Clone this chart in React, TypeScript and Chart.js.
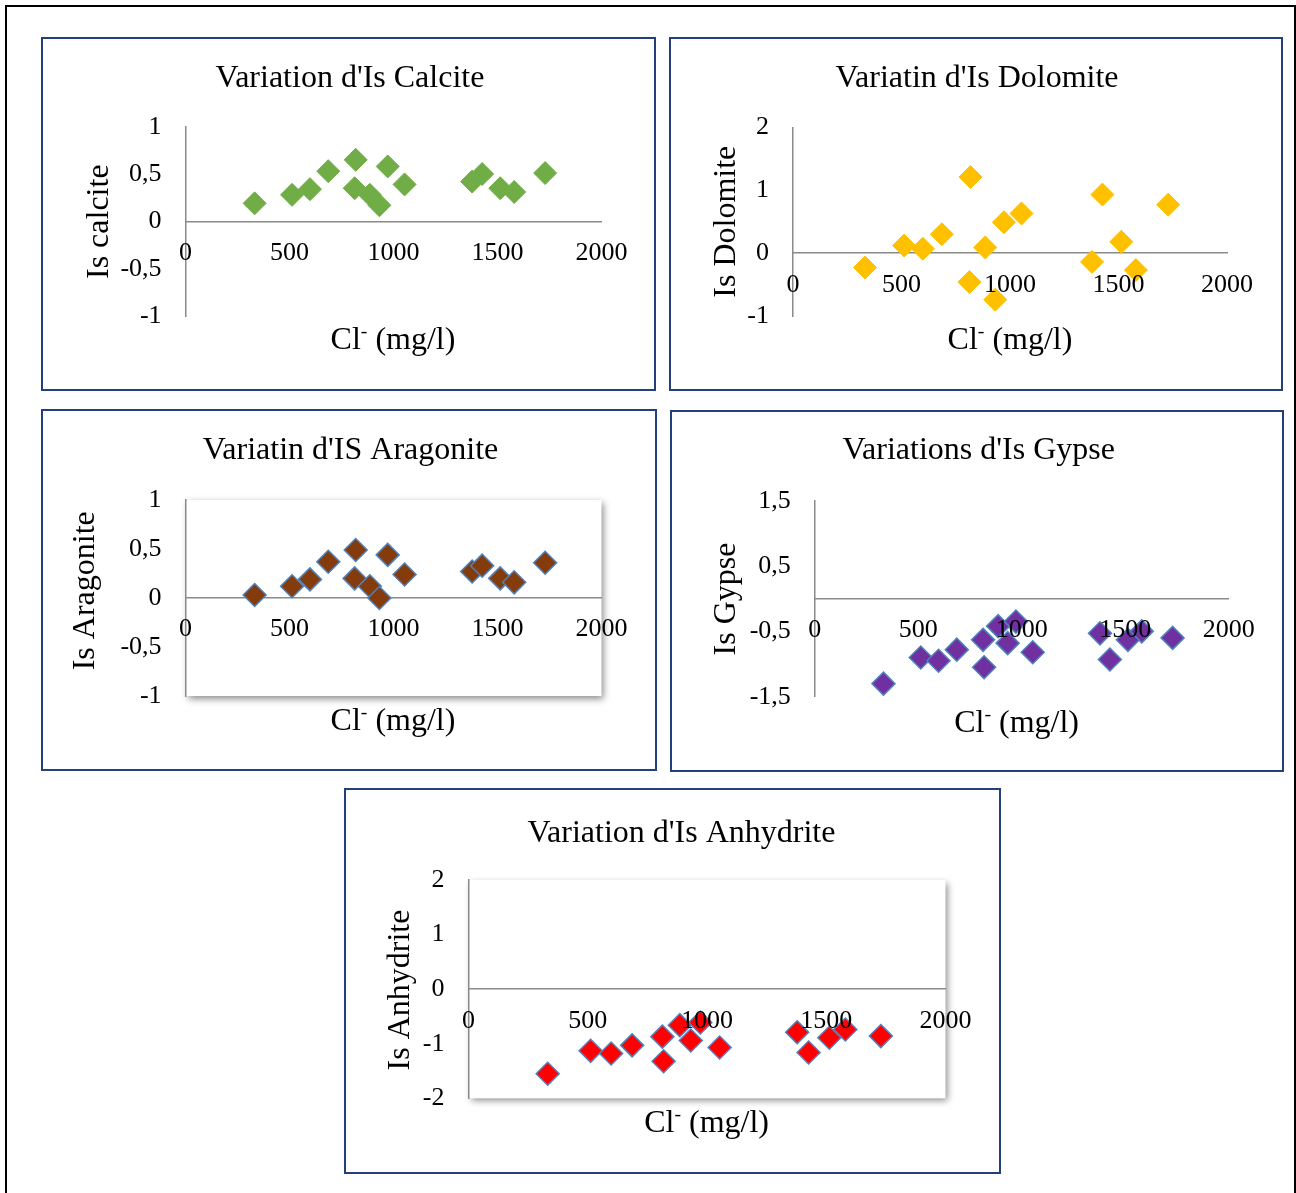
import React, { useEffect, useRef } from 'react';
import { Chart, registerables } from 'chart.js';

Chart.register(...registerables);

// ---------------- data ----------------
const chlorideMgL = [332, 512, 598, 686, 813, 818, 886, 932, 972, 1053, 1378, 1426, 1513, 1580, 1729];
const isCalcite = [0.19, 0.28, 0.34, 0.53, 0.35, 0.65, 0.28, 0.17, 0.58, 0.39, 0.42, 0.5, 0.35, 0.31, 0.51];
const isDolomite = [-0.23, 0.12, 0.07, 0.3, -0.46, 1.21, 0.09, -0.74, 0.49, 0.63, -0.14, 0.93, 0.18, -0.27, 0.77];
const isAragonite = [0.03, 0.12, 0.19, 0.37, 0.2, 0.49, 0.12, 0.0, 0.44, 0.24, 0.27, 0.33, 0.2, 0.16, 0.36];
const isGypse = [-1.3, -0.9, -0.95, -0.78, -0.63, -1.05, -0.42, -0.68, -0.35, -0.82, -0.53, -0.93, -0.63, -0.5, -0.6];
const isAnhydrite = [-1.55, -1.13, -1.18, -1.03, -0.87, -1.32, -0.66, -0.94, -0.61, -1.07, -0.79, -1.16, -0.89, -0.74, -0.86];

const xTicks = [0, 500, 1000, 1500, 2000];
const calciteTicks = [-1, -0.5, 0, 0.5, 1];
const dolomiteTicks = [-1, 0, 1, 2];
const aragoniteTicks = [-1, -0.5, 0, 0.5, 1];
const gypseTicks = [-1.5, -0.5, 0.5, 1.5];
const anhydriteTicks = [-2, -1, 0, 1, 2];

const xAxisTitle = 'Cl';
const xAxisTitleSup = '-';
const xAxisTitleUnit = ' (mg/l)';

// ---------------- styles / layout ----------------
const FONT = "'Liberation Serif', 'Times New Roman', serif";
const AXIS_COLOR = '#8a8a8a';
const PANEL_BORDER = '#24407a';

type Panel = {
  title: string;
  yTitle: string;
  values: number[];
  yTicks: number[];
  fill: string;
  stroke: string;
  strokeWidth: number;
  box: { l: number; t: number; w: number; h: number };
  area: { left: number; right: number; top: number; bottom: number };
  titlePos: [number, number];
  yTitlePos: [number, number];
  xTitlePos: [number, number];
  shadow: boolean;
};

const panels: Panel[] = [
  {
    title: "Variation d'Is Calcite",
    yTitle: 'Is calcite',
    values: isCalcite,
    yTicks: calciteTicks,
    fill: '#70AD47',
    stroke: '#70AD47',
    strokeWidth: 1,
    box: { l: 41, t: 37, w: 615, h: 354 },
    area: { left: 144.6, right: 54.5, top: 89.7, bottom: 75 },
    titlePos: [309, 49.7],
    yTitlePos: [66.5, 184.7],
    xTitlePos: [352, 312],
    shadow: false,
  },
  {
    title: "Variatin d'Is Dolomite",
    yTitle: 'Is Dolomite',
    values: isDolomite,
    yTicks: dolomiteTicks,
    fill: '#FFC000',
    stroke: '#FFC000',
    strokeWidth: 1,
    box: { l: 669, t: 37, w: 614, h: 354 },
    area: { left: 124, right: 56, top: 90.3, bottom: 75 },
    titlePos: [308, 49.7],
    yTitlePos: [66, 184.7],
    xTitlePos: [341, 312],
    shadow: false,
  },
  {
    title: "Variatin d'IS Aragonite",
    yTitle: 'Is Aragonite',
    values: isAragonite,
    yTicks: aragoniteTicks,
    fill: '#843C0C',
    stroke: '#4F81BD',
    strokeWidth: 1.5,
    box: { l: 41, t: 409, w: 616, h: 362 },
    area: { left: 144.6, right: 55.5, top: 91, bottom: 75 },
    titlePos: [309.5, 50],
    yTitlePos: [52.6, 181.8],
    xTitlePos: [352, 321],
    shadow: true,
  },
  {
    title: "Variations d'Is Gypse",
    yTitle: 'Is Gypse',
    values: isGypse,
    yTicks: gypseTicks,
    fill: '#7030A0',
    stroke: '#4F81BD',
    strokeWidth: 1.5,
    box: { l: 670, t: 410, w: 614, h: 362 },
    area: { left: 144.8, right: 55.3, top: 90.7, bottom: 75.3 },
    titlePos: [308.7, 49],
    yTitlePos: [65, 189],
    xTitlePos: [346.6, 321.7],
    shadow: false,
  },
  {
    title: "Variation d'Is Anhydrite",
    yTitle: 'Is Anhydrite',
    values: isAnhydrite,
    yTicks: anhydriteTicks,
    fill: '#FF0000',
    stroke: '#4F81BD',
    strokeWidth: 1.5,
    box: { l: 344, t: 788, w: 657, h: 386 },
    area: { left: 124.5, right: 55.5, top: 92, bottom: 75.7 },
    titlePos: [337.5, 53.7],
    yTitlePos: [65, 202],
    xTitlePos: [362.6, 343.7],
    shadow: true,
  },
];

const TITLE_SIZE = 32;
const AXIS_TITLE_SIZE = 32;
const TICK_SIZE = 26;

const panelTextPlugin = {
  id: 'panelText',
  afterDraw(chart: any, _args: any, opts: any) {
    const ctx = chart.ctx as CanvasRenderingContext2D;
    ctx.save();
    ctx.fillStyle = '#000';
    ctx.textBaseline = 'alphabetic';

    // chart title
    ctx.font = `${TITLE_SIZE}px ${FONT}`;
    ctx.textAlign = 'center';
    ctx.fillText(opts.title, opts.titleX, opts.titleY);

    // y-axis title (rotated)
    ctx.save();
    ctx.translate(opts.yTitleX, opts.yTitleY);
    ctx.rotate(-Math.PI / 2);
    ctx.font = `${AXIS_TITLE_SIZE}px ${FONT}`;
    ctx.textAlign = 'center';
    ctx.fillText(opts.yTitle, 0, 0);
    ctx.restore();

    // x-axis title with superscript
    const mainFont = `${AXIS_TITLE_SIZE}px ${FONT}`;
    const supFont = `${AXIS_TITLE_SIZE * 0.62}px ${FONT}`;
    ctx.font = mainFont;
    const w1 = ctx.measureText(xAxisTitle).width;
    const w3 = ctx.measureText(xAxisTitleUnit).width;
    ctx.font = supFont;
    const w2 = ctx.measureText(xAxisTitleSup).width;
    let x = opts.xTitleX - (w1 + w2 + w3) / 2;
    const by = opts.xTitleY;
    ctx.textAlign = 'left';
    ctx.font = mainFont;
    ctx.fillText(xAxisTitle, x, by);
    x += w1;
    ctx.font = supFont;
    ctx.fillText(xAxisTitleSup, x, by - AXIS_TITLE_SIZE * 0.38);
    x += w2;
    ctx.font = mainFont;
    ctx.fillText(xAxisTitleUnit, x, by);
    ctx.restore();
  },
};

const plotShadowPlugin = {
  id: 'plotShadow',
  beforeDraw(chart: any, _args: any, opts: any) {
    if (!opts || !opts.enabled) return;
    const { ctx, chartArea } = chart;
    ctx.save();
    ctx.shadowColor = 'rgba(0,0,0,0.45)';
    ctx.shadowBlur = 7;
    ctx.shadowOffsetX = 2;
    ctx.shadowOffsetY = 3;
    ctx.fillStyle = '#ffffff';
    ctx.fillRect(chartArea.left, chartArea.top, chartArea.right - chartArea.left, chartArea.bottom - chartArea.top);
    ctx.restore();
  },
};

function ScatterPanel({ p }: { p: Panel }) {
  const ref = useRef<HTMLCanvasElement | null>(null);

  useEffect(() => {
    if (!ref.current) return;
    const fmt = (v: number) => String(v).replace('.', ',');
    const chart = new Chart(ref.current, {
      type: 'scatter',
      data: {
        datasets: [
          {
            data: chlorideMgL.map((x, i) => ({ x, y: p.values[i] })),
            pointStyle: 'rectRot',
            pointRadius: 11.5,
            pointHoverRadius: 11.5,
            backgroundColor: p.fill,
            borderColor: p.stroke,
            borderWidth: p.strokeWidth,
          },
        ],
      },
      options: {
        responsive: false,
        animation: false,
        events: [],
        layout: {
          padding: { left: 0, top: p.area.top, right: p.area.right, bottom: p.area.bottom },
        },
        plugins: {
          legend: { display: false },
          title: { display: false },
          tooltip: { enabled: false },
          panelText: {
            title: p.title,
            titleX: p.titlePos[0],
            titleY: p.titlePos[1],
            yTitle: p.yTitle,
            yTitleX: p.yTitlePos[0],
            yTitleY: p.yTitlePos[1],
            xTitleX: p.xTitlePos[0],
            xTitleY: p.xTitlePos[1],
          },
          plotShadow: { enabled: p.shadow },
        } as any,
        scales: {
          x: {
            type: 'linear',
            position: { y: 0 } as any,
            min: xTicks[0],
            max: xTicks[xTicks.length - 1],
            afterBuildTicks: (s: any) => {
              s.ticks = xTicks.map((v) => ({ value: v }));
            },
            ticks: {
              callback: (v: any) => String(v),
              font: { family: FONT, size: TICK_SIZE },
              color: '#000',
              padding: 16,
              maxRotation: 0,
              autoSkip: false,
              z: 1,
            } as any,
            grid: { display: false, drawTicks: false },
            border: { display: true, color: AXIS_COLOR, width: 1.5, z: 0 },
          },
          y: {
            type: 'linear',
            position: 'left',
            min: p.yTicks[0],
            max: p.yTicks[p.yTicks.length - 1],
            afterBuildTicks: (s: any) => {
              s.ticks = p.yTicks.map((v) => ({ value: v }));
            },
            afterFit: (s: any) => {
              s.width = p.area.left;
            },
            ticks: {
              callback: (v: any) => fmt(Number(v)),
              font: { family: FONT, size: TICK_SIZE },
              color: '#000',
              padding: 24,
              autoSkip: false,
            },
            grid: { display: false, drawTicks: false },
            border: { display: true, color: AXIS_COLOR, width: 1.5 },
          },
        },
      },
      plugins: [plotShadowPlugin, panelTextPlugin],
    });
    return () => chart.destroy();
  }, [p]);

  return (
    <>
      <div
        style={{
          position: 'absolute',
          left: p.box.l,
          top: p.box.t,
          width: p.box.w,
          height: p.box.h,
          border: `2px solid ${PANEL_BORDER}`,
          boxSizing: 'border-box',
          background: '#fff',
        }}
      />
      <canvas
        ref={ref}
        width={p.box.w}
        height={p.box.h}
        style={{ position: 'absolute', left: p.box.l, top: p.box.t }}
      />
    </>
  );
}

export default function App() {
  return (
    <div
      style={{
        position: 'absolute',
        left: 0,
        top: 0,
        width: 1296,
        height: 1193,
        overflow: 'hidden',
        background: '#fff',
      }}
    >
      <div
        style={{
          position: 'absolute',
          left: 5,
          top: 5,
          width: 1291,
          height: 1240,
          border: '2px solid #000',
          boxSizing: 'border-box',
        }}
      />
      {panels.map((p) => (
        <ScatterPanel key={p.title} p={p} />
      ))}
    </div>
  );
}
